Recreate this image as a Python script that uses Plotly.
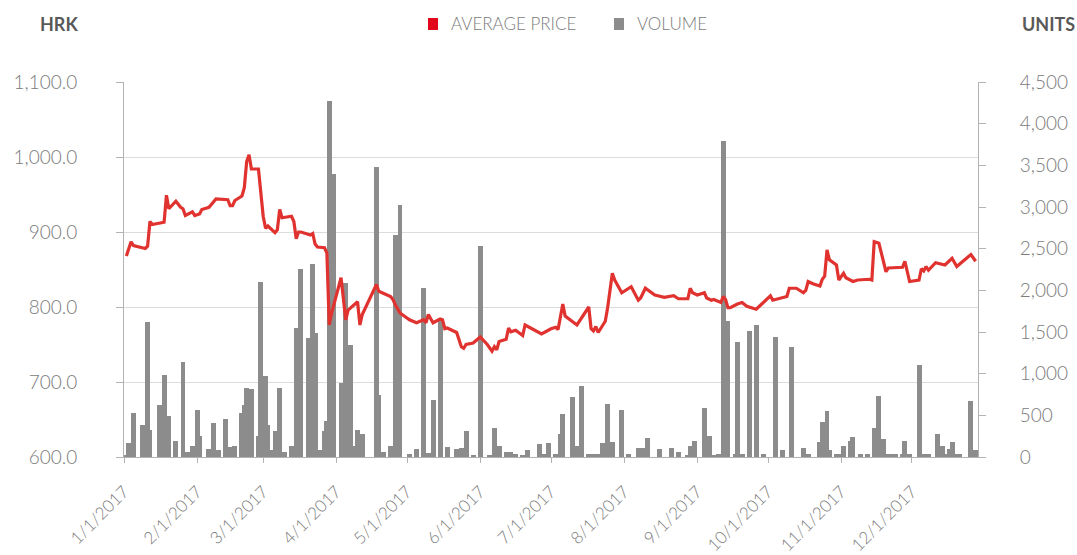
import plotly.graph_objects as go

# ---------------- data ----------------
price_dates = [
    "2017-01-02", "2017-01-04", "2017-01-05", "2017-01-10", "2017-01-11", "2017-01-12", "2017-01-13",
    "2017-01-18", "2017-01-19", "2017-01-20", "2017-01-23", "2017-01-25", "2017-01-26", "2017-01-27",
    "2017-01-30", "2017-01-31", "2017-02-02", "2017-02-03", "2017-02-06", "2017-02-09", "2017-02-14",
    "2017-02-15", "2017-02-16", "2017-02-17", "2017-02-20", "2017-02-21", "2017-02-22", "2017-02-23",
    "2017-02-24", "2017-02-27", "2017-03-01", "2017-03-02", "2017-03-03", "2017-03-06", "2017-03-07",
    "2017-03-08", "2017-03-09", "2017-03-13", "2017-03-14", "2017-03-15", "2017-03-16", "2017-03-17",
    "2017-03-20", "2017-03-21", "2017-03-22", "2017-03-23", "2017-03-24", "2017-03-27", "2017-03-28",
    "2017-03-29", "2017-03-30", "2017-04-03", "2017-04-05", "2017-04-06", "2017-04-10", "2017-04-11",
    "2017-04-12", "2017-04-18", "2017-04-19", "2017-04-24", "2017-04-25", "2017-04-26", "2017-04-28",
    "2017-05-02", "2017-05-05", "2017-05-08", "2017-05-09", "2017-05-10", "2017-05-12", "2017-05-15",
    "2017-05-16", "2017-05-17", "2017-05-18", "2017-05-22", "2017-05-24", "2017-05-25", "2017-05-26",
    "2017-05-29", "2017-06-01", "2017-06-04", "2017-06-06", "2017-06-07", "2017-06-08", "2017-06-09",
    "2017-06-12", "2017-06-13", "2017-06-14", "2017-06-16", "2017-06-19", "2017-06-20", "2017-06-27",
    "2017-07-01", "2017-07-03", "2017-07-04", "2017-07-06", "2017-07-07", "2017-07-12", "2017-07-17",
    "2017-07-18", "2017-07-19", "2017-07-20", "2017-07-21", "2017-07-24", "2017-07-25", "2017-07-27",
    "2017-07-28", "2017-07-31", "2017-08-04", "2017-08-07", "2017-08-08", "2017-08-10", "2017-08-14",
    "2017-08-18", "2017-08-22", "2017-08-24", "2017-08-28", "2017-08-29", "2017-08-30", "2017-09-01",
    "2017-09-04", "2017-09-05", "2017-09-07", "2017-09-08", "2017-09-11", "2017-09-12", "2017-09-13",
    "2017-09-14", "2017-09-15", "2017-09-18", "2017-09-20", "2017-09-22", "2017-09-26", "2017-09-28",
    "2017-10-02", "2017-10-03", "2017-10-05", "2017-10-09", "2017-10-10", "2017-10-13", "2017-10-16",
    "2017-10-17", "2017-10-18", "2017-10-20", "2017-10-23", "2017-10-24", "2017-10-25", "2017-10-26",
    "2017-10-27", "2017-10-30", "2017-10-31", "2017-11-02", "2017-11-03", "2017-11-06", "2017-11-08",
    "2017-11-13", "2017-11-14", "2017-11-15", "2017-11-17", "2017-11-20", "2017-11-21", "2017-11-27",
    "2017-11-28", "2017-11-30", "2017-12-04", "2017-12-05", "2017-12-06", "2017-12-07", "2017-12-08",
    "2017-12-11", "2017-12-15", "2017-12-18", "2017-12-20", "2017-12-26", "2017-12-28",
]
price_values = [
    868, 887, 882, 878, 881, 914, 910,
    913, 949, 931, 941, 933, 931, 922,
    927, 922, 924, 930, 933, 944, 943,
    935, 935, 942, 948, 959, 994, 1003,
    984, 984, 921, 905, 908, 899, 903,
    930, 919, 921, 914, 891, 900, 900,
    897, 896, 898, 884, 880, 879, 872,
    776, 792, 839, 783, 796, 807, 776,
    790, 830, 821, 814, 810, 803, 792,
    783, 779, 783, 779, 790, 779, 784,
    783, 771, 772, 766, 747, 745, 750,
    752, 760, 750, 741, 747, 743, 754,
    757, 772, 767, 769, 762, 776, 764,
    771, 773, 770, 804, 788, 776, 800,
    771, 768, 774, 766, 781, 799, 845,
    836, 819, 827, 809, 812, 825, 816,
    813, 815, 811, 811, 825, 819, 816,
    819, 812, 809, 810, 806, 814, 810,
    799, 799, 804, 806, 801, 797, 803,
    815, 809, 811, 814, 825, 825, 819,
    822, 834, 831, 828, 837, 841, 876,
    863, 856, 836, 845, 839, 834, 836,
    837, 836, 887, 885, 847, 852, 853,
    861, 834, 836, 851, 848, 854, 849,
    859, 856, 865, 854, 870, 861,
]

vol_dates = [
    "2017-01-02", "2017-01-03", "2017-01-05", "2017-01-09", "2017-01-11", "2017-01-12", "2017-01-16",
    "2017-01-18", "2017-01-20", "2017-01-23", "2017-01-26", "2017-01-28", "2017-01-30", "2017-02-01",
    "2017-02-02", "2017-02-06", "2017-02-08", "2017-02-10", "2017-02-13", "2017-02-15", "2017-02-17",
    "2017-02-20", "2017-02-21", "2017-02-22", "2017-02-24", "2017-02-27", "2017-02-28", "2017-03-02",
    "2017-03-03", "2017-03-05", "2017-03-06", "2017-03-08", "2017-03-10", "2017-03-13", "2017-03-15",
    "2017-03-17", "2017-03-20", "2017-03-22", "2017-03-23", "2017-03-25", "2017-03-27", "2017-03-28",
    "2017-03-29", "2017-03-31", "2017-04-03", "2017-04-05", "2017-04-07", "2017-04-08", "2017-04-10",
    "2017-04-12", "2017-04-18", "2017-04-19", "2017-04-21", "2017-04-24", "2017-04-26", "2017-04-28",
    "2017-05-02", "2017-05-05", "2017-05-08", "2017-05-10", "2017-05-12", "2017-05-15", "2017-05-18",
    "2017-05-22", "2017-05-24", "2017-05-26", "2017-05-29", "2017-06-01", "2017-06-05", "2017-06-07",
    "2017-06-09", "2017-06-12", "2017-06-14", "2017-06-16", "2017-06-19", "2017-06-21", "2017-06-26",
    "2017-06-28", "2017-06-30", "2017-07-03", "2017-07-05", "2017-07-06", "2017-07-10", "2017-07-12",
    "2017-07-14", "2017-07-17", "2017-07-19", "2017-07-21", "2017-07-23", "2017-07-25", "2017-07-27",
    "2017-07-31", "2017-08-03", "2017-08-07", "2017-08-09", "2017-08-11", "2017-08-16", "2017-08-21",
    "2017-08-24", "2017-08-28", "2017-08-29", "2017-08-31", "2017-09-04", "2017-09-06", "2017-09-08",
    "2017-09-10", "2017-09-12", "2017-09-14", "2017-09-17", "2017-09-18", "2017-09-20", "2017-09-23",
    "2017-09-26", "2017-09-29", "2017-10-04", "2017-10-07", "2017-10-11", "2017-10-16", "2017-10-18",
    "2017-10-23", "2017-10-24", "2017-10-26", "2017-10-27", "2017-10-30", "2017-11-01", "2017-11-02",
    "2017-11-05", "2017-11-06", "2017-11-09", "2017-11-12", "2017-11-15", "2017-11-17", "2017-11-19",
    "2017-11-21", "2017-11-22", "2017-11-24", "2017-11-27", "2017-11-28", "2017-11-30", "2017-12-04",
    "2017-12-06", "2017-12-08", "2017-12-12", "2017-12-14", "2017-12-15", "2017-12-17", "2017-12-18",
    "2017-12-20", "2017-12-21", "2017-12-26", "2017-12-28",
]
vol_values = [
    30, 170, 530, 390, 1615, 330, 630,
    990, 490, 190, 1135, 60, 130, 570,
    250, 100, 410, 90, 460, 120, 130,
    530, 630, 830, 815, 250, 2100, 975,
    390, 80, 310, 830, 60, 130, 1550,
    2255, 1430, 2320, 1490, 90, 310, 430,
    4270, 3395, 890, 2090, 1350, 130, 330,
    275, 3480, 750, 60, 130, 2660, 3030,
    40, 100, 2025, 50, 690, 1650, 120,
    100, 110, 315, 30, 2535, 30, 350,
    130, 60, 60, 40, 30, 90, 155,
    40, 170, 40, 280, 520, 715, 130,
    850, 40, 40, 40, 170, 635, 180,
    560, 40, 110, 110, 230, 100, 110,
    60, 30, 130, 190, 590, 255, 30,
    40, 3790, 1630, 40, 1375, 40, 1515,
    1590, 40, 1440, 90, 1315, 110, 40,
    180, 420, 555, 80, 40, 40, 130,
    195, 240, 40, 40, 350, 735, 215,
    40, 40, 40, 40, 190, 40, 1110,
    40, 40, 280, 135, 40, 100, 175,
    40, 40, 675, 90,
]

month_ticks = ["2017-%02d-01" % m for m in range(1, 13)]
month_labels = ["%d/1/2017" % m for m in range(1, 13)]

# ---------------- styles ----------------
FONT = "Lato, 'Open Sans', sans-serif"
RED_LINE = "#e0332f"
RED_KEY = "#e2061b"
GREY_BAR = "#8c8c8c"
AXIS_COL = "#b3b3b3"
TEXT_COL = "#7b7b7b"
DAY_MS = 86400000

fig = go.Figure()
fig.add_trace(go.Bar(
    x=vol_dates, y=vol_values, name="VOLUME",
    marker=dict(color=GREY_BAR, line=dict(width=0)),
    width=2.1 * DAY_MS, yaxis="y",
))
fig.add_trace(go.Scatter(
    x=price_dates, y=price_values, name="AVERAGE PRICE", mode="lines",
    line=dict(color=RED_LINE, width=3.2), yaxis="y2",
))

tick_font = dict(size=19, color=TEXT_COL, family=FONT, weight=300)

fig.update_layout(
    width=1077, height=555, autosize=False,
    margin=dict(l=124, r=99, t=82, b=98),
    paper_bgcolor="white", plot_bgcolor="white",
    showlegend=False,
    font=dict(family=FONT, color=TEXT_COL),
    bargap=0,
    xaxis=dict(
        type="date", range=["2017-01-01", "2017-12-29"], automargin=False,
        tickvals=month_ticks, ticktext=month_labels, tickangle=-45,
        showline=True, linecolor=AXIS_COL, linewidth=1,
        ticks="outside", ticklen=5, tickcolor=AXIS_COL,
        showgrid=False, zeroline=False,
        tickfont=dict(size=17, color=TEXT_COL, family=FONT, weight=300),
        ticklabelstandoff=12,
    ),
    yaxis=dict(
        side="right", range=[0, 4500], dtick=500, tickformat=",d", automargin=False,
        showline=True, linecolor=AXIS_COL, linewidth=1,
        ticks="outside", ticklen=7, tickcolor=AXIS_COL,
        showgrid=False, zeroline=False,
        tickfont=tick_font,
        ticklabelstandoff=30,
    ),
    yaxis2=dict(
        overlaying="y", side="left", range=[600, 1100], dtick=100, tickformat=",.1f",
        automargin=False,
        showline=True, linecolor=AXIS_COL, linewidth=1,
        ticks="outside", ticklen=7, tickcolor=AXIS_COL,
        showgrid=True, gridcolor="#dcdcdc", gridwidth=1, zeroline=False,
        tickfont=tick_font,
        ticklabelstandoff=35,
    ),
)

# custom legend & axis unit titles (paper coordinates)
def px_x(px):
    return (px - 124) / 854.0

def px_y(py):
    return (457 - py) / 375.0

fig.add_shape(type="rect", xref="paper", yref="paper",
              x0=px_x(428), x1=px_x(438), y0=px_y(30), y1=px_y(18),
              fillcolor=RED_KEY, line=dict(width=0))
fig.add_shape(type="rect", xref="paper", yref="paper",
              x0=px_x(614), x1=px_x(624), y0=px_y(30), y1=px_y(18),
              fillcolor=GREY_BAR, line=dict(width=0))

annots = [
    dict(text="AVERAGE PRICE", x=px_x(449), xanchor="left",
         font=dict(size=17, color=TEXT_COL, family=FONT, weight=300)),
    dict(text="VOLUME", x=px_x(635), xanchor="left",
         font=dict(size=17, color=TEXT_COL, family=FONT, weight=300)),
    dict(text="<b>HRK</b>", x=px_x(59), xanchor="center",
         font=dict(size=18, color="#595959", family=FONT)),
    dict(text="<b>UNITS</b>", x=px_x(1048), xanchor="center",
         font=dict(size=18, color="#595959", family=FONT)),
]
for a in annots:
    fig.add_annotation(xref="paper", yref="paper", y=px_y(24), yanchor="middle",
                       showarrow=False, **a)

fig.write_html("out.html", config={"displayModeBar": False},
               post_script="document.body.style.margin='0px';")
